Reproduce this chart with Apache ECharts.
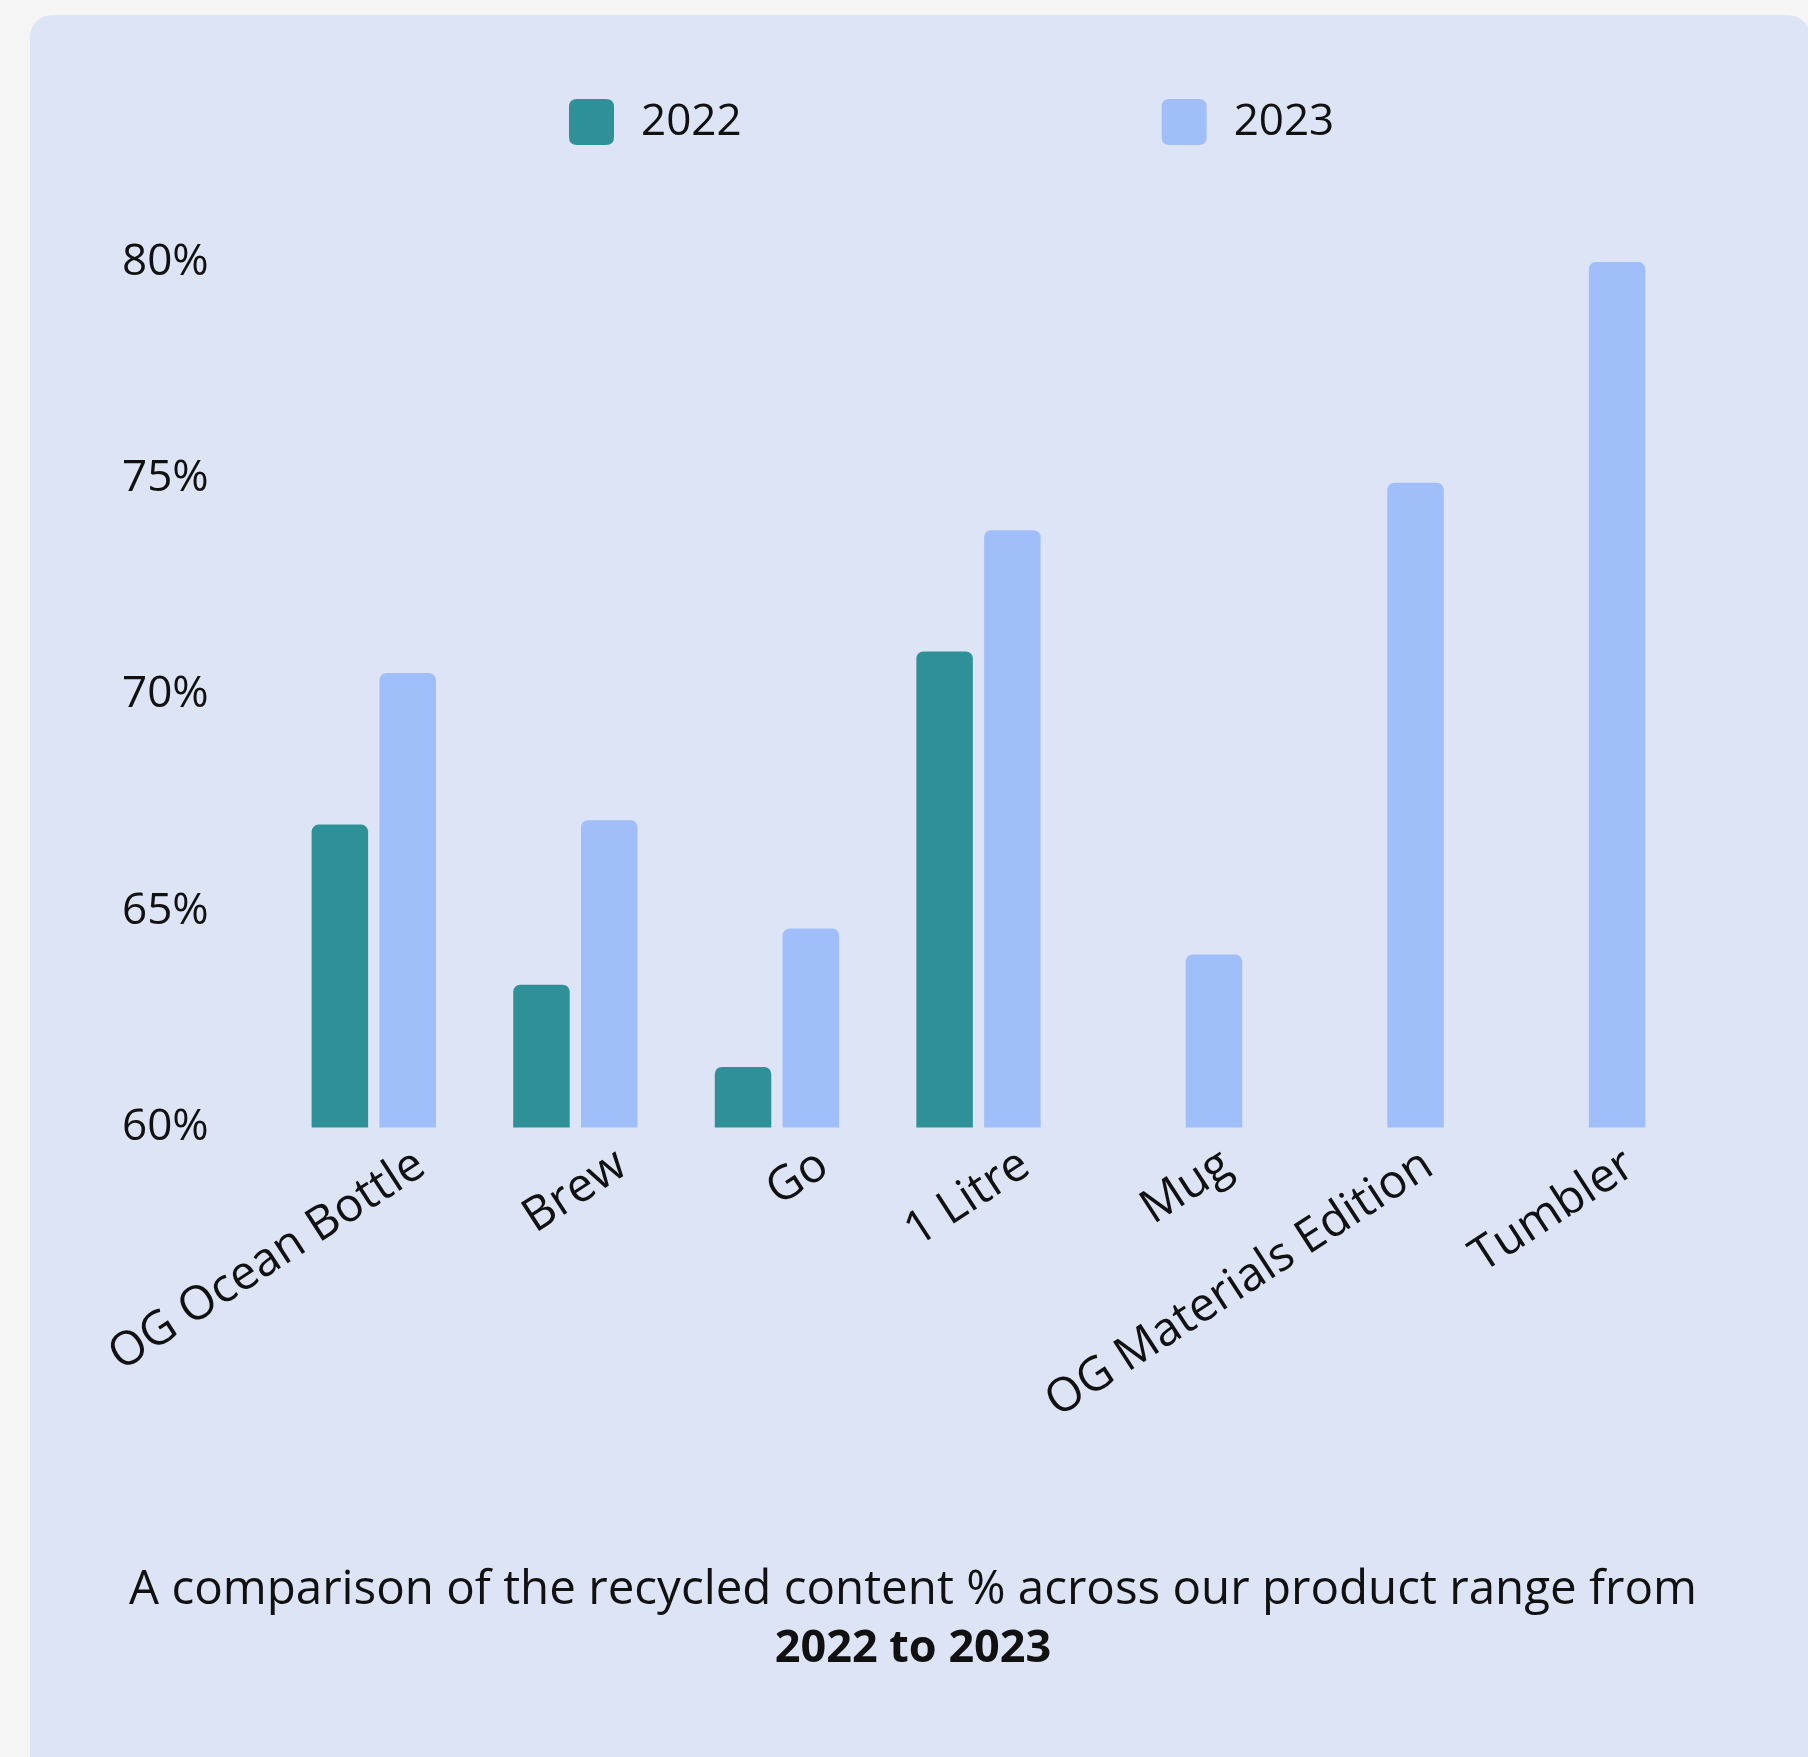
<!DOCTYPE html>
<html>
<head>
<meta charset="utf-8">
<script src="https://cdn.jsdelivr.net/npm/echarts@6/dist/echarts.min.js"></script>
<style>
  html, body { margin: 0; padding: 0; background: #f5f5f5; }
  #panel { position: absolute; left: 30px; top: 15px; width: 1780px; height: 1800px; background: #dce4f6; border-radius: 22px; }
  #chart { position: absolute; left: 0; top: 0; width: 1808px; height: 1757px; }
</style>
</head>
<body>
<div id="panel"></div>
<div id="chart"></div>
<script>
const categories = ['OG Ocean Bottle', 'Brew', 'Go', '1 Litre', 'Mug', 'OG Materials Edition', 'Tumbler'];
const values2022 = [67.0, 63.3, 61.4, 71.0, null, null, null];
const values2023 = [70.5, 67.1, 64.6, 73.8, 64.0, 74.9, 80.0];
const seriesNames = ['2022', '2023'];
const yTicks = { min: 60, max: 80, interval: 5 };
const captionLine1 = 'A comparison of the recycled content % across our product range from';
const captionLine2 = '2022 to 2023';

const FONT = '"Open Sans", "Noto Sans", sans-serif';
const chart = echarts.init(document.getElementById('chart'), null, { renderer: 'canvas' });
const swatch = 'path://M8,0 H37 Q45,0 45,8 V38 Q45,46 37,46 H8 Q0,46 0,38 V8 Q0,0 8,0 Z';

chart.setOption({
  backgroundColor: 'transparent',
  animation: false,
  textStyle: { fontFamily: FONT },
  legend: {
    left: 564, top: 94,
    itemWidth: 45, itemHeight: 46, itemGap: 420,
    icon: swatch,
    textStyle: { fontSize: 44, color: '#111', fontFamily: FONT, padding: [0, 0, 0, 22] },
    data: seriesNames
  },
  grid: { left: 273, right: 124, top: 262, bottom: 1757 - 1127.5, containLabel: false, outerBoundsMode: 'none' },
  xAxis: {
    type: 'category',
    data: categories,
    axisLine: { show: false },
    axisTick: { show: false },
    axisLabel: {
      interval: 0, rotate: 33, margin: 64,
      fontSize: 47, color: '#111', fontFamily: FONT,
      padding: [0, -56, 0, 0]
    }
  },
  yAxis: {
    type: 'value',
    min: yTicks.min, max: yTicks.max, interval: yTicks.interval,
    splitLine: { show: false },
    axisLine: { show: false },
    axisTick: { show: false },
    axisLabel: {
      align: 'left', margin: 151,
      fontSize: 44, color: '#111', fontFamily: FONT,
      formatter: v => v + '%'
    }
  },
  title: {
    left: 908, top: 1556, textAlign: 'center',
    text: captionLine1 + '\n{b|' + captionLine2 + '}',
    textStyle: {
      fontSize: 47.5, fontWeight: 'normal', color: '#111', fontFamily: FONT, lineHeight: 59,
      rich: { b: { fontSize: 45, fontWeight: 'bold', color: '#111', fontFamily: FONT, lineHeight: 59 } }
    }
  },
  series: [
    {
      name: seriesNames[0], type: 'bar', data: values2022,
      barWidth: 56.5, barGap: '20%',
      itemStyle: { color: '#2f9198', borderRadius: [7, 7, 0, 0] }
    },
    {
      name: seriesNames[1], type: 'bar', data: values2023,
      barWidth: 56.5, barGap: '20%',
      itemStyle: { color: '#a0bef9', borderRadius: [7, 7, 0, 0] }
    }
  ]
});
</script>
</body>
</html>
